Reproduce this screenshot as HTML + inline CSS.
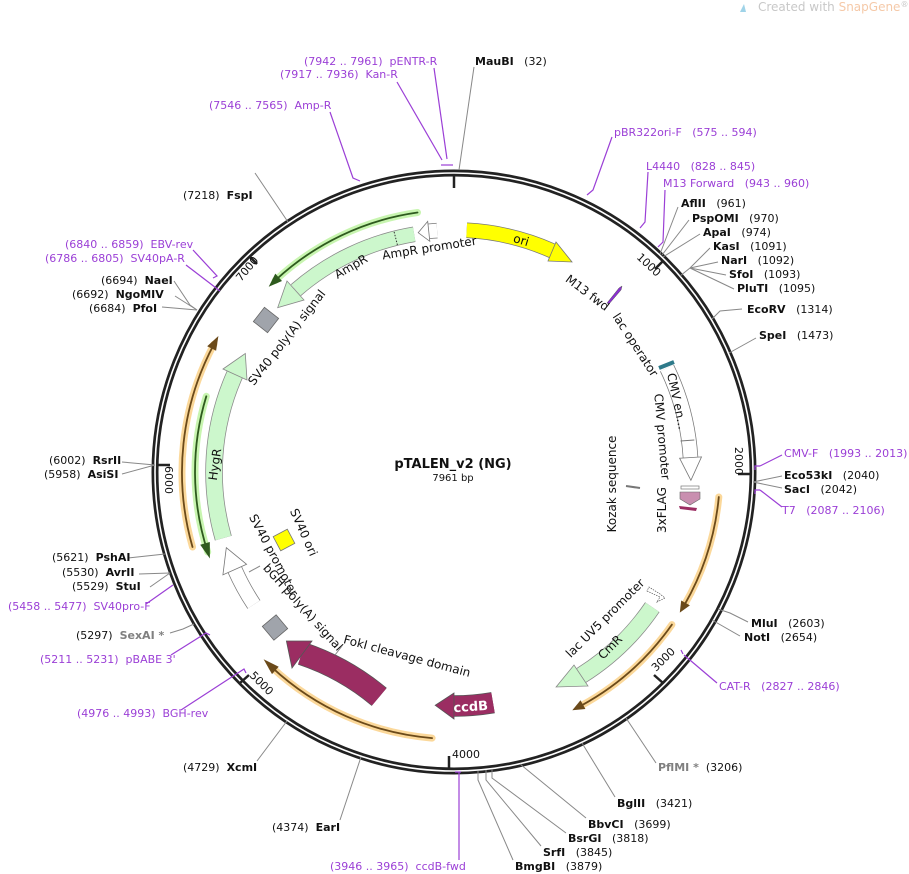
<!DOCTYPE html>
<html><head><meta charset="utf-8"><style>
html,body{margin:0;padding:0;background:#fff;}
svg{display:block;font-family:"DejaVu Sans","Liberation Sans",sans-serif;}
text{white-space:pre;}
.e{font-size:11px;fill:#111;}
.b{font-weight:bold;}
.p{font-size:11px;fill:#9b3fd6;}
.g{fill:#808080;}
.f{font-size:12px;fill:#111;}
.ln{stroke:#888;stroke-width:1;fill:none;}
.pl{stroke:#9b3fd6;stroke-width:1.2;fill:none;}
</style></head><body>
<svg width="909" height="874" viewBox="0 0 909 874" xmlns="http://www.w3.org/2000/svg" xml:space="preserve">
<rect width="909" height="874" fill="#fff"/>
<path d="M740 12 L744 4 L746 12 Z" fill="#9fd3e8"/>
<text x="758" y="11" font-size="12" fill="#c8c8c8">Created with <tspan fill="#f5c9a8">SnapGene</tspan><tspan font-size="8" dy="-4">®</tspan></text>

<circle cx="454" cy="472" r="299" fill="none" stroke="#222" stroke-width="7"/>
<circle cx="454" cy="472" r="299" fill="none" stroke="#fff" stroke-width="1.6"/>

<g stroke="#222" stroke-width="2.5">
<line x1="454" y1="174" x2="454" y2="188"/>
<line x1="663" y1="261" x2="655" y2="269"/>
<line x1="750" y1="474" x2="738" y2="474"/>
<line x1="663" y1="683" x2="654" y2="675"/>
<line x1="449" y1="768" x2="449" y2="756"/>
<line x1="240" y1="683" x2="249" y2="675"/>
<line x1="158" y1="465" x2="170" y2="465"/>
<line x1="249" y1="256" x2="257" y2="264"/>
</g>
<g font-size="11" fill="#111">
<text transform="translate(636,258) rotate(43)">1000</text>
<text transform="translate(735,447) rotate(90)">2000</text>
<text transform="translate(656,672) rotate(-45)">3000</text>
<text x="452" y="758">4000</text>
<text transform="translate(249,676) rotate(45)">5000</text>
<text transform="translate(165,466) rotate(90)">6000</text>
<text transform="translate(241,282) rotate(-50)">7000</text>
</g>

<g fill="none" stroke-linecap="round">
<path d="M192.5 547 A272 272 0 0 1 213.9 344.3" stroke="#fbd89a" stroke-width="7"/>
<path d="M192.5 547 A272 272 0 0 1 213.9 344.3" stroke="#6b4a1a" stroke-width="1.8"/>
<path d="M432.1 738.1 A267 267 0 0 1 271.9 667.3" stroke="#fbd89a" stroke-width="7"/>
<path d="M432.1 738.1 A267 267 0 0 1 271.9 667.3" stroke="#6b4a1a" stroke-width="1.8"/>
<path d="M718.8 497 A266 266 0 0 1 684.4 605" stroke="#fbd89a" stroke-width="7"/>
<path d="M718.8 497 A266 266 0 0 1 684.4 605" stroke="#6b4a1a" stroke-width="1.8"/>
<path d="M671.9 624.6 A266 266 0 0 1 580.9 705.8" stroke="#fbd89a" stroke-width="7"/>
<path d="M671.9 624.6 A266 266 0 0 1 580.9 705.8" stroke="#6b4a1a" stroke-width="1.8"/>
<path d="M417.5 212.5 A262 262 0 0 0 275.3 280.4" stroke="#c8f5b0" stroke-width="7"/>
<path d="M417.5 212.5 A262 262 0 0 0 275.3 280.4" stroke="#2e5a1e" stroke-width="1.8"/>
<path d="M206.3 396.3 A259 259 0 0 0 207.7 552" stroke="#c8f5b0" stroke-width="7"/>
<path d="M206.3 396.3 A259 259 0 0 0 207.7 552" stroke="#2e5a1e" stroke-width="1.8"/>
</g>
<g fill="#6b4a1a">
<polygon points="218.4,336 207.2,346.2 216.1,350.8"/>
<polygon points="263.6,659.2 272,674.1 278.7,666.7"/>
<polygon points="679.8,612.6 689.9,605.4 681.2,600.5"/>
<polygon points="572.3,710.3 585.4,709 580.5,700.3"/>
</g>
<g fill="#2e5a1e">
<polygon points="268.7,286.7 275.3,273.6 282,281"/>
<polygon points="209.9,558.5 200.2,544.8 209.8,542"/>
</g>

<path d="M466.7 230.3 A242 242 0 0 1 552.4 250.9" fill="none" stroke="#777" stroke-width="15.5"/>
<path d="M466.7 230.3 A242 242 0 0 1 552.4 250.9" fill="none" stroke="#ffff00" stroke-width="14"/>
<polygon points="556,242 572,262 548,261" fill="#ffff00" stroke="#777" stroke-width="0.8"/>
<text class="f" transform="translate(520,244) rotate(17)" text-anchor="middle">ori</text>

<path d="M437.1 230.6 A242 242 0 0 0 428.7 231.3" fill="none" stroke="#777" stroke-width="15.5"/>
<path d="M437.1 230.6 A242 242 0 0 0 428.7 231.3" fill="none" stroke="#fff" stroke-width="14"/>
<polygon points="427.7,221.4 418.2,232.7 429.8,241.3" fill="#fff" stroke="#777" stroke-width="0.8"/>
<text class="f" transform="translate(430,252) rotate(-9)" text-anchor="middle">AmpR promoter</text>

<path d="M414.2 234.3 A241 241 0 0 0 295.9 290.1" fill="none" stroke="#888" stroke-width="15.5"/>
<path d="M414.2 234.3 A241 241 0 0 0 295.9 290.1" fill="none" stroke="#ccf7cc" stroke-width="14"/>
<polygon points="287,281 277.7,307.6 304,300" fill="#ccf7cc" stroke="#888" stroke-width="0.8"/>
<line x1="397.4" y1="245" x2="394" y2="231.4" stroke="#333" stroke-dasharray="1.5,1.5"/>
<text class="f" transform="translate(353,270) rotate(-30)" text-anchor="middle">AmpR</text>

<rect x="-9" y="-9" width="18" height="18" transform="translate(266,320) rotate(38)" fill="#a0a4ab" stroke="#666" stroke-width="0.8"/>
<text class="f" transform="translate(290,340) rotate(-52)" text-anchor="middle">SV40 poly(A) signal</text>

<path d="M223.3 538.1 A240 240 0 0 1 234.8 374.4" fill="none" stroke="#888" stroke-width="17.5"/>
<path d="M223.3 538.1 A240 240 0 0 1 234.8 374.4" fill="none" stroke="#ccf7cc" stroke-width="16"/>
<polygon points="223,369 245.3,353.5 247,380" fill="#ccf7cc" stroke="#888" stroke-width="0.8"/>
<text class="f" transform="translate(219,465) rotate(-82)" text-anchor="middle">HygR</text>

<path d="M253.9 604.5 A240 240 0 0 1 234.8 569.6" fill="none" stroke="#777" stroke-width="15.5"/>
<path d="M253.9 604.5 A240 240 0 0 1 234.8 569.6" fill="none" stroke="#fff" stroke-width="14"/>
<polygon points="222.9,574.9 226.3,547.7 246.6,564.3" fill="#fff" stroke="#777" stroke-width="0.8"/>
<line x1="249" y1="572" x2="260" y2="566" stroke="#888"/>
<text class="f" transform="translate(270,557) rotate(62)" text-anchor="middle">SV40 promoter</text>

<rect x="-9" y="-9" width="18" height="18" transform="translate(275,627.5) rotate(-40)" fill="#a0a4ab" stroke="#666" stroke-width="0.8"/>
<text class="f" transform="translate(300,610) rotate(48)" text-anchor="middle">bGH poly(A) signal</text>

<rect x="-8" y="-8" width="16" height="16" transform="translate(284,540) rotate(-28)" fill="#ffff00" stroke="#777" stroke-width="0.8"/>
<text class="f" transform="translate(300,534) rotate(66)" text-anchor="middle">SV40 ori</text>

<path d="M379.2 696.9 A237 237 0 0 0 301.7 653.5" fill="none" stroke="#555" stroke-width="23.5"/>
<path d="M379.2 696.9 A237 237 0 0 0 301.7 653.5" fill="none" stroke="#9b2d62" stroke-width="22"/>
<polygon points="292,668 286.4,641 312,641" fill="#9b2d62" stroke="#555" stroke-width="0.8"/>
<line x1="335" y1="655" x2="342" y2="646" stroke="#888"/>
<text class="f" transform="translate(406,660) rotate(15)" text-anchor="middle">FokI cleavage domain</text>

<path d="M493 702.7 A234 234 0 0 1 454 706" fill="none" stroke="#555" stroke-width="21.5"/>
<path d="M493 702.7 A234 234 0 0 1 454 706" fill="none" stroke="#9b2d62" stroke-width="20"/>
<polygon points="454,719 435.2,705.3 454,693" fill="#9b2d62" stroke="#555" stroke-width="0.8"/>
<text transform="translate(471,711) rotate(-4)" text-anchor="middle" font-size="13" font-weight="bold" fill="#fff">ccdB</text>

<path d="M652.3 607.2 A240 240 0 0 1 581.2 675.5" fill="none" stroke="#888" stroke-width="17.5"/>
<path d="M652.3 607.2 A240 240 0 0 1 581.2 675.5" fill="none" stroke="#ccf7cc" stroke-width="16"/>
<polygon points="588,686 556.1,687 574,665" fill="#ccf7cc" stroke="#888" stroke-width="0.8"/>
<text class="f" transform="translate(613,650) rotate(-45)" text-anchor="middle">CmR</text>
<text class="f" transform="translate(608,621) rotate(-45)" text-anchor="middle">lac UV5 promoter</text>
<polygon points="647,591 660,597 657,602 665,598 660,594 649,587" fill="#fff" stroke="#555" stroke-width="0.7" stroke-dasharray="1.5,1"/>

<path d="M667 368.1 A237 237 0 0 1 690.5 457.5" fill="none" stroke="#777" stroke-width="15.5"/>
<path d="M667 368.1 A237 237 0 0 1 690.5 457.5" fill="none" stroke="#fff" stroke-width="14"/>
<polygon points="701.5,456.9 690.9,480.3 679.6,458.2" fill="#fff" stroke="#777" stroke-width="0.8"/>
<line x1="680.5" y1="441" x2="694.3" y2="440" stroke="#777"/>
<text font-size="12" fill="#111" transform="translate(673,402) rotate(78)" text-anchor="middle">CMV en...</text>
<text class="f" transform="translate(658,437) rotate(85)" text-anchor="middle">CMV promoter</text>

<line x1="659" y1="368" x2="674" y2="362" stroke="#2e7a8a" stroke-width="4"/>
<text class="f" transform="translate(632,347) rotate(57)" text-anchor="middle">lac operator</text>
<polygon points="607,303 619,288 622,286 621,290 609,304" fill="#8a2fd0" stroke="#555" stroke-width="0.5"/>
<text class="f" transform="translate(585,296) rotate(37)" text-anchor="middle">M13 fwd</text>

<rect x="681" y="486" width="18" height="3" fill="#fff" stroke="#777" stroke-width="0.7"/>
<polygon points="680,492 700,492 700,499 690,505 680,499" fill="#c98fb0" stroke="#666" stroke-width="0.6"/>
<polygon points="679,506 697,508 696,511 680,509" fill="#9b2d62"/>
<text class="f" transform="translate(666,510) rotate(-90)" text-anchor="middle">3xFLAG</text>
<line x1="626" y1="486" x2="640" y2="488" stroke="#777" stroke-width="2"/>
<text class="f" transform="translate(616,484) rotate(-90)" text-anchor="middle">Kozak sequence</text>

<text x="453" y="468" text-anchor="middle" font-size="13" font-weight="bold" fill="#111">pTALEN_v2 (NG)</text>
<text x="453" y="481" text-anchor="middle" font-size="10" fill="#111">7961 bp</text>

<g class="ln">
<polyline points="459,170 474,67"/>
<polyline points="288,222 255,173"/>
<polyline points="197,310 190,305 174,281"/>
<polyline points="197,310 175,296"/>
<polyline points="197,310 162,307"/>
<polyline points="155,465 122,462"/>
<polyline points="155,465 122,474"/>
<polyline points="165,554 128,558"/>
<polyline points="170,573 139,574"/>
<polyline points="170,573 150,587"/>
<polyline points="194,624 183,629 170,633"/>
<polyline points="287,721 257,761"/>
<polyline points="361,757 340,820"/>
<polyline points="660,254 678,207"/>
<polyline points="662,255 689,220"/>
<polyline points="663,257 700,234"/>
<polyline points="680,276 690,268 710,248"/>
<polyline points="690,268 718,262"/>
<polyline points="690,268 726,275"/>
<polyline points="690,268 734,289"/>
<polyline points="712,319 720,311 742,309"/>
<polyline points="729,353 756,338"/>
<polyline points="753,482 782,476"/>
<polyline points="753,482 782,488"/>
<polyline points="718,609 730,613 748,622"/>
<polyline points="712,620 740,636"/>
<polyline points="626,718 656,763"/>
<polyline points="582,743 615,797"/>
<polyline points="520,764 586,818"/>
<polyline points="492,769 492,778 566,833"/>
<polyline points="486,770 486,780 541,846"/>
<polyline points="478,771 478,780 513,860"/>
</g>
<g class="pl">
<polyline points="434,68 447,159"/>
<polyline points="441,165 453,165"/>
<polyline points="397,82 442,160"/>
<polyline points="330,112 353,178 360,181"/>
<polyline points="612,137 593,190 587,195"/>
<polyline points="648,172 645,222 640,228"/>
<polyline points="665,190 663,242 658,247"/>
<polyline points="193,250 217,276 213,278"/>
<polyline points="186,265 220,291"/>
<polyline points="755,470 755,466 760,466"/>
<polyline points="760,466 782,455"/>
<polyline points="755,494 755,490 760,490"/>
<polyline points="760,490 782,507"/>
<polyline points="146,604 173,585"/>
<polyline points="171,655 206,633 210,635"/>
<polyline points="681,650 683,654"/>
<polyline points="684,655 717,683"/>
<polyline points="181,710 244,669 246,673"/>
<polyline points="459,772 459,860"/>
<polyline points="455,772 461,772"/>
</g>

<g class="e">
<text x="475" y="65"><tspan class="b">MauBI</tspan>   (32)</text>
<text x="183" y="199">(7218)  <tspan class="b">FspI</tspan></text>
<text x="101" y="284">(6694)  <tspan class="b">NaeI</tspan></text>
<text x="72" y="298">(6692)  <tspan class="b">NgoMIV</tspan></text>
<text x="89" y="312">(6684)  <tspan class="b">PfoI</tspan></text>
<text x="49" y="464">(6002)  <tspan class="b">RsrII</tspan></text>
<text x="44" y="478">(5958)  <tspan class="b">AsiSI</tspan></text>
<text x="52" y="561">(5621)  <tspan class="b">PshAI</tspan></text>
<text x="62" y="576">(5530)  <tspan class="b">AvrII</tspan></text>
<text x="72" y="590">(5529)  <tspan class="b">StuI</tspan></text>
<text x="76" y="639">(5297)  <tspan class="b g">SexAI *</tspan></text>
<text x="183" y="771">(4729)  <tspan class="b">XcmI</tspan></text>
<text x="272" y="831">(4374)  <tspan class="b">EarI</tspan></text>
<text x="681" y="207"><tspan class="b">AflII</tspan>   (961)</text>
<text x="692" y="222"><tspan class="b">PspOMI</tspan>   (970)</text>
<text x="703" y="236"><tspan class="b">ApaI</tspan>   (974)</text>
<text x="713" y="250"><tspan class="b">KasI</tspan>   (1091)</text>
<text x="721" y="264"><tspan class="b">NarI</tspan>   (1092)</text>
<text x="729" y="278"><tspan class="b">SfoI</tspan>   (1093)</text>
<text x="737" y="292"><tspan class="b">PluTI</tspan>   (1095)</text>
<text x="747" y="313"><tspan class="b">EcoRV</tspan>   (1314)</text>
<text x="759" y="339"><tspan class="b">SpeI</tspan>   (1473)</text>
<text x="784" y="479"><tspan class="b">Eco53kI</tspan>   (2040)</text>
<text x="784" y="493"><tspan class="b">SacI</tspan>   (2042)</text>
<text x="751" y="627"><tspan class="b">MluI</tspan>   (2603)</text>
<text x="744" y="641"><tspan class="b">NotI</tspan>   (2654)</text>
<text x="658" y="771"><tspan class="b g">PflMI *</tspan>  (3206)</text>
<text x="617" y="807"><tspan class="b">BglII</tspan>   (3421)</text>
<text x="588" y="828"><tspan class="b">BbvCI</tspan>   (3699)</text>
<text x="568" y="842"><tspan class="b">BsrGI</tspan>   (3818)</text>
<text x="543" y="856"><tspan class="b">SrfI</tspan>   (3845)</text>
<text x="515" y="870"><tspan class="b">BmgBI</tspan>   (3879)</text>
</g>
<g class="p">
<text x="304" y="65">(7942 .. 7961)  pENTR-R</text>
<text x="280" y="78">(7917 .. 7936)  Kan-R</text>
<text x="209" y="109">(7546 .. 7565)  Amp-R</text>
<text x="614" y="136">pBR322ori-F   (575 .. 594)</text>
<text x="646" y="170">L4440   (828 .. 845)</text>
<text x="663" y="187">M13 Forward   (943 .. 960)</text>
<text x="65" y="248">(6840 .. 6859)  EBV-rev</text>
<text x="45" y="262">(6786 .. 6805)  SV40pA-R</text>
<text x="784" y="457">CMV-F   (1993 .. 2013)</text>
<text x="782" y="514">T7   (2087 .. 2106)</text>
<text x="8" y="610">(5458 .. 5477)  SV40pro-F</text>
<text x="40" y="663">(5211 .. 5231)  pBABE 3'</text>
<text x="719" y="690">CAT-R   (2827 .. 2846)</text>
<text x="77" y="717">(4976 .. 4993)  BGH-rev</text>
<text x="330" y="870">(3946 .. 3965)  ccdB-fwd</text>
</g>
</svg>
</body></html>
